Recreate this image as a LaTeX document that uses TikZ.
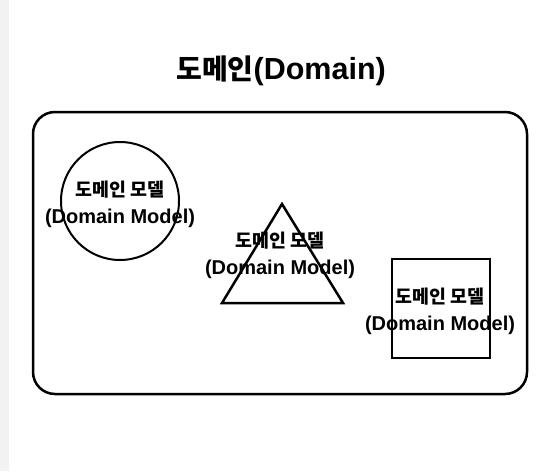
\documentclass[tikz,border=0pt]{standalone}
\usepackage{fontspec}
\setmainfont{Liberation Sans}
\newfontfamily\krfont[Scale=0.92]{Noto Sans CJK KR Bold}
\usetikzlibrary{positioning}
\definecolor{stripgray}{HTML}{F2F2F2}
\newcommand{\domainmodel}{{\krfont 도메인 모델}\\(Domain Model)}

\begin{document}
\begin{tikzpicture}[x=1pt, y=-1pt,
		shapeline/.style={draw, line width=2pt, inner sep=0pt, outer sep=0pt},
		modeltext/.style={align=center, inner sep=0pt, font=\bfseries\fontsize{20}{27}\selectfont}]
		%page
			\useasboundingbox [fill=white] (0,0) rectangle (548,471);
			\fill [stripgray] (0,0) rectangle (9,471);
		%title
			\node [anchor=base, inner sep=0pt, font=\bfseries\fontsize{30.5}{36}\selectfont] (title) at (281,79) {{\krfont 도메인}(Domain)};
		%domain box
			\draw [line width=2.5pt, rounded corners=22pt] (33,112) rectangle (527,394);
		%circle
			\node [shapeline, circle, minimum size=118pt] (circ) at (120,201) {};
			\node [modeltext] (circtext) at (120,204) {\domainmodel};
		%triangle
			\coordinate (apex) at (282,204);
			\coordinate (baseL) at (222,303);
			\coordinate (baseR) at (343,303);
			\draw [line width=2.5pt, line join=miter] (apex) to (baseL) to (baseR) -- cycle;
			\node [modeltext] (tritext) at (280,255) {\domainmodel};
		%square
			\node [shapeline, rectangle, minimum width=98pt, minimum height=99pt] (sq) at (441,308.5) {};
			\node [modeltext] (sqtext) at (440,311.5) {\domainmodel};
\end{tikzpicture}
\end{document}
